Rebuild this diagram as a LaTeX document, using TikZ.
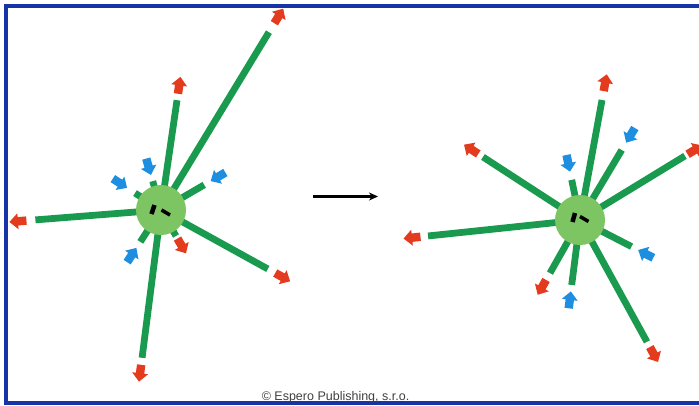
\documentclass[tikz,border=0pt]{standalone}
\usepackage{fontspec}
\setmainfont{Liberation Sans}
\usetikzlibrary{arrows.meta}
\definecolor{rayg}{RGB}{26,154,78}
\definecolor{cellg}{RGB}{125,196,98}
\definecolor{outred}{RGB}{228,58,30}
\definecolor{inblue}{RGB}{30,143,224}
\definecolor{frameblue}{RGB}{22,52,165}
\tikzset{
  ray/.style={draw=rayg, line width=6.8pt},
  cell/.style={circle, fill=cellg, minimum size=50pt, inner sep=0pt},
  bar/.style={draw=black, line width=4.5pt},
  thinbar/.style={draw=black, line width=3.5pt},
}
\newcommand\outray[4]{% center, angle, green length, arrow centre
  \begin{scope}[shift={(#1)}, rotate={-1*(#2)}]
    \draw[ray] (0,0) -- (#3,0);
    \fill[outred] ({#4-8.5},-4.2) -- ({#4},-4.2) -- ({#4},-8) -- ({#4+8.5},0)
      -- ({#4},8) -- ({#4},4.2) -- ({#4-8.5},4.2) -- cycle;
  \end{scope}}
\newcommand\inray[4]{% center, angle, green length, arrow centre
  \begin{scope}[shift={(#1)}, rotate={-1*(#2)}]
    \draw[ray] (0,0) -- (#3,0);
    \fill[inblue] ({#4+8.5},-4.2) -- ({#4},-4.2) -- ({#4},-8) -- ({#4-8.5},0)
      -- ({#4},8) -- ({#4},4.2) -- ({#4+8.5},4.2) -- cycle;
  \end{scope}}
\begin{document}
\begin{tikzpicture}[x=1pt, y=-1pt]
\useasboundingbox (0,0) rectangle (699,405);
\begin{scope}
\clip (0,0) rectangle (699,405);
\draw[frameblue, line width=3.5pt] (6,6) rectangle (710,403);

\coordinate (C1) at (161,210);
\coordinate (C2) at (580,220);

% left star
\foreach \a/\l/\c in {-58.75/208/227, -81.7/111/126, 175.5/126/143.5, 97.3/149/164.6, 28.9/122/139, 60/30/41.5}
  {\outray{C1}{\a}{\l}{\c}}
\foreach \a/\l/\c in {-146.9/31/49, -106/30/45, -30.2/50/66, 123/38/53.7}
  {\inray{C1}{\a}{\l}{\c}}
% right star
\foreach \a/\l/\c in {-79.6/122/139.6, -147/115.7/129.8, 174/152.8/168.9, -31.4/123/134.6, 61.2/139/153.5, 119.5/61/77.4}
  {\outray{C2}{\a}{\l}{\c}}
\foreach \a/\l/\c in {-101.7/41/57.9, -59.2/81.5/98.6, 27.3/58/74, 97.3/65.5/80.5}
  {\inray{C2}{\a}{\l}{\c}}

\node[cell] (cellL) at (C1) {};
\node[cell] (cellR) at (C2) {};

\draw[bar] (154.5,205) -- (151.5,214);
\draw[thinbar] (161.5,210) -- (170,215);
\draw[bar] (575,213) -- (572.5,222);
\draw[thinbar] (580,216.5) -- (588.5,221.5);

\coordinate (mA) at (313,196.5);
\coordinate (mB) at (378,196.5);
\draw[line width=2.2pt, -{Stealth[length=9pt, width=8pt]}] (mA) -- (mB);

\node[text=black!75, font=\fontsize{12.5}{14}\selectfont, anchor=base, inner sep=0pt] (copy) at (335.5,400) {© Espero Publishing, s.r.o.};
\end{scope}
\end{tikzpicture}
\end{document}
